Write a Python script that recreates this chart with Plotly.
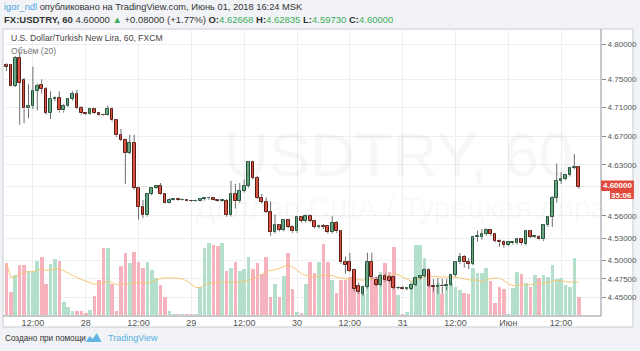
import math
import pandas as pd
import plotly.graph_objects as go

# ---------------- data (hourly candles, FX:USDTRY, 60) ----------------
open_ = [4.770, 4.771, 4.741, 4.781, 4.749, 4.709, 4.713, 4.734, 4.742, 4.737,
         4.703, 4.722, 4.724, 4.706, 4.713, 4.722, 4.729, 4.710, 4.702, 4.701,
         4.708, 4.702, 4.700, 4.699, 4.708, 4.692, 4.671, 4.665, 4.647, 4.661,
         4.598, 4.572, 4.561, 4.590, 4.598, 4.601, 4.590, 4.578, 4.582, 4.583,
         4.582, 4.582, 4.581, 4.580, 4.581, 4.583, 4.584, 4.585, 4.582, 4.580,
         4.581, 4.561, 4.590, 4.580, 4.594, 4.601, 4.634, 4.612, 4.585, 4.579,
         4.566, 4.538, 4.547, 4.541, 4.554, 4.545, 4.539, 4.558, 4.553, 4.560,
         4.553, 4.545, 4.546, 4.546, 4.538, 4.551, 4.539, 4.497, 4.498, 4.487,
         4.465, 4.455, 4.464, 4.498, 4.474, 4.467, 4.479, 4.477, 4.477, 4.463,
         4.463, 4.462, 4.462, 4.467, 4.476, 4.479, 4.487, 4.466, 4.464, 4.466,
         4.465, 4.467, 4.480, 4.497, 4.505, 4.497, 4.495, 4.531, 4.532, 4.535,
         4.541, 4.535, 4.526, 4.525, 4.521, 4.523, 4.523, 4.528, 4.522, 4.539,
         4.532, 4.532, 4.528, 4.547, 4.558, 4.585, 4.608, 4.611, 4.616, 4.626,
         4.62668]
high = [4.773, 4.772, 4.783, 4.790, 4.752, 4.743, 4.768, 4.744, 4.750, 4.739,
        4.733, 4.726, 4.733, 4.715, 4.724, 4.733, 4.735, 4.712, 4.703, 4.709,
        4.709, 4.703, 4.701, 4.713, 4.710, 4.694, 4.680, 4.667, 4.672, 4.672,
        4.600, 4.582, 4.591, 4.599, 4.602, 4.605, 4.591, 4.584, 4.584, 4.585,
        4.584, 4.583, 4.582, 4.582, 4.584, 4.586, 4.586, 4.586, 4.583, 4.583,
        4.583, 4.608, 4.604, 4.605, 4.610, 4.635, 4.636, 4.615, 4.590, 4.585,
        4.580, 4.562, 4.549, 4.556, 4.556, 4.547, 4.560, 4.560, 4.562, 4.562,
        4.555, 4.548, 4.549, 4.548, 4.560, 4.553, 4.541, 4.505, 4.510, 4.489,
        4.470, 4.466, 4.510, 4.510, 4.478, 4.481, 4.482, 4.480, 4.479, 4.465,
        4.465, 4.464, 4.468, 4.478, 4.480, 4.489, 4.489, 4.475, 4.476, 4.475,
        4.475, 4.482, 4.499, 4.510, 4.507, 4.503, 4.533, 4.540, 4.542, 4.543,
        4.542, 4.537, 4.528, 4.527, 4.526, 4.525, 4.530, 4.530, 4.540, 4.541,
        4.534, 4.534, 4.549, 4.560, 4.587, 4.632, 4.620, 4.618, 4.627, 4.645,
        4.62835]
low = [4.762, 4.740, 4.739, 4.686, 4.688, 4.695, 4.708, 4.706, 4.730, 4.700,
       4.694, 4.719, 4.703, 4.703, 4.711, 4.720, 4.708, 4.700, 4.700, 4.700,
       4.701, 4.698, 4.698, 4.698, 4.690, 4.669, 4.663, 4.604, 4.645, 4.596,
       4.555, 4.557, 4.559, 4.588, 4.597, 4.589, 4.577, 4.577, 4.581, 4.581,
       4.581, 4.580, 4.579, 4.579, 4.580, 4.581, 4.582, 4.581, 4.579, 4.579,
       4.559, 4.559, 4.570, 4.578, 4.592, 4.599, 4.610, 4.583, 4.577, 4.564,
       4.533, 4.536, 4.539, 4.539, 4.543, 4.537, 4.537, 4.551, 4.551, 4.551,
       4.543, 4.543, 4.542, 4.536, 4.536, 4.537, 4.495, 4.482, 4.484, 4.458,
       4.455, 4.452, 4.462, 4.475, 4.465, 4.465, 4.471, 4.470, 4.461, 4.461,
       4.461, 4.460, 4.460, 4.465, 4.474, 4.477, 4.464, 4.458, 4.455, 4.455,
       4.460, 4.465, 4.478, 4.495, 4.490, 4.488, 4.493, 4.525, 4.528, 4.533,
       4.533, 4.524, 4.518, 4.517, 4.519, 4.521, 4.521, 4.521, 4.520, 4.530,
       4.530, 4.527, 4.526, 4.545, 4.545, 4.578, 4.604, 4.609, 4.614, 4.624,
       4.5973]
close = [4.768, 4.741, 4.781, 4.745, 4.709, 4.713, 4.734, 4.741, 4.737, 4.703,
         4.722, 4.724, 4.706, 4.713, 4.722, 4.729, 4.710, 4.702, 4.701, 4.708,
         4.702, 4.699, 4.699, 4.708, 4.692, 4.671, 4.665, 4.647, 4.661, 4.598,
         4.572, 4.561, 4.590, 4.598, 4.601, 4.590, 4.578, 4.582, 4.583, 4.582,
         4.582, 4.581, 4.580, 4.581, 4.583, 4.584, 4.585, 4.582, 4.580, 4.582,
         4.561, 4.590, 4.580, 4.594, 4.601, 4.634, 4.612, 4.585, 4.579, 4.566,
         4.538, 4.547, 4.541, 4.554, 4.545, 4.539, 4.558, 4.553, 4.560, 4.553,
         4.545, 4.546, 4.545, 4.538, 4.551, 4.539, 4.497, 4.494, 4.486, 4.461,
         4.458, 4.464, 4.498, 4.477, 4.467, 4.479, 4.473, 4.472, 4.463, 4.463,
         4.462, 4.463, 4.467, 4.476, 4.479, 4.487, 4.466, 4.464, 4.466, 4.465,
         4.467, 4.480, 4.497, 4.505, 4.497, 4.495, 4.531, 4.533, 4.535, 4.541,
         4.535, 4.526, 4.524, 4.521, 4.524, 4.524, 4.528, 4.523, 4.539, 4.532,
         4.533, 4.528, 4.547, 4.558, 4.585, 4.608, 4.611, 4.616, 4.626, 4.627,
         4.600]
volume = [51.7, 23.3, 40, 50, 50, 44, 44, 54, 58.3, 30.7,
          51, 55.7, 54, 12.7, 7.7, 4, 4, 4, 2.3, 5,
          19, 35, 66.7, 66.7, 30.7, 4, 49, 62.3, 51.7, 62.7,
          52.7, 46.7, 52.7, 45, 37.3, 30, 18.3, 4, 1, 0.5,
          0.3, 0.3, 0.3, 1, 28.3, 66.7, 71.7, 70, 69.3, 71.7,
          44, 47.3, 52.7, 44, 45.7, 57.7, 45.7, 51.7, 41, 57.7,
          18.3, 30.7, 18.3, 39, 61.7, 26, 3, 1.7, 30.7, 52.7,
          41.7, 52.7, 70.7, 52.7, 35, 21.7, 35, 35, 37.7, 35,
          24.3, 21, 38.3, 38.3, 38.3, 43.3, 51.7, 43.3, 67.7, 20,
          1, 3.3, 34, 70.5, 70.5, 57, 43, 30, 32, 21,
          30, 32, 28, 25, 22, 21, 47, 42, 42, 47,
          34, 12, 28, 26, 1, 27, 43, 41, 32, 28,
          40, 37, 40, 38, 50, 36, 37, 30, 28, 57,
          18]

time_tick_pos = [6, 18, 30, 42, 54, 66, 78, 90, 102, 114, 126]
time_tick_labels = ["12:00", "28", "12:00", "29", "12:00", "30", "12:00", "31", "12:00", "Июн", "12:00"]
price_ticks = [4.45, 4.475, 4.50, 4.53, 4.56, 4.60, 4.63, 4.67, 4.71, 4.75, 4.80]
last_price_label = "4.60000"
countdown_label = "35:06"

# ---------------- styling ----------------
FONT = "Liberation Sans, Arial, sans-serif"
UP_BODY, UP_EDGE = "#6ba583", "#225437"
DN_BODY, DN_EDGE = "#d75442", "#5b1a13"
WICK = "#6e6e6e"
VOL_UP, VOL_DN = "#b3dfcb", "#f6b2bd"
GRID = "#eceff2"

W, H = 640, 351
PL, PR, PT, PB = 3, 603, 29, 316  # plot area in pixels


def xp(x):
    return (x - PL) / (PR - PL)


def yp(y):
    return (PB - y) / (PB - PT)


n = len(close)
idx = list(range(n))
up = [c >= o for o, c in zip(open_, close)]

vol_ma = pd.Series(volume).rolling(20, min_periods=1).mean()

fig = go.Figure()

# volume (bottom layer, primary y)
fig.add_trace(go.Bar(
    x=idx, y=volume, width=0.82,
    marker=dict(color=[VOL_UP if u else VOL_DN for u in up], line=dict(width=0)),
    yaxis="y", hoverinfo="skip", showlegend=False))
fig.add_trace(go.Scatter(
    x=idx, y=vol_ma, mode="lines", line=dict(color="#f6c877", width=1),
    yaxis="y", hoverinfo="skip", showlegend=False))

# wicks (upper and lower parts only)
wx, wy = [], []
for i in idx:
    top = max(open_[i], close[i])
    bot = min(open_[i], close[i])
    if high[i] > top:
        wx += [i, i, None]
        wy += [top, high[i], None]
    if low[i] < bot:
        wx += [i, i, None]
        wy += [low[i], bot, None]
fig.add_trace(go.Scatter(x=wx, y=wy, mode="lines", line=dict(color=WICK, width=1),
                         yaxis="y2", hoverinfo="skip", showlegend=False))

# bodies
for flag, body, edge in [(True, UP_BODY, UP_EDGE), (False, DN_BODY, DN_EDGE)]:
    xs = [i for i in idx if up[i] == flag]
    base = [min(open_[i], close[i]) for i in xs]
    size = [max(abs(close[i] - open_[i]), 0.0004) for i in xs]
    fig.add_trace(go.Bar(
        x=xs, y=size, base=base, width=0.62,
        marker=dict(color=body, line=dict(color=edge, width=1)),
        yaxis="y2", hoverinfo="skip", showlegend=False))

# log range derived from tick calibration: 4.80 at y=44.3, 3346 px per ln-unit
ln_top = math.log(4.80) + (44.3 - PT) / 3346.0
ln_bot = math.log(4.80) - (PB - 44.3) / 3346.0

fig.update_layout(
    width=W, height=H, autosize=False,
    margin=dict(l=PL, r=W - PR, t=PT, b=H - PB, pad=0),
    paper_bgcolor="#f1f3f6", plot_bgcolor="rgba(0,0,0,0)",
    barmode="overlay", bargap=0,
    font=dict(family=FONT, color="#4a4a4a"),
    xaxis=dict(range=[-0.79, 135.06], tickvals=time_tick_pos, ticktext=time_tick_labels,
               showgrid=True, gridcolor=GRID, gridwidth=1, zeroline=False,
               showline=False, ticks="", tickfont=dict(size=9, color="#555"),
               fixedrange=True),
    yaxis=dict(range=[-1, PB - PT - 1], visible=False, showgrid=False, zeroline=False,
               fixedrange=True),
    yaxis2=dict(type="log", overlaying="y", side="right",
                range=[ln_bot / math.log(10), ln_top / math.log(10)],
                tickvals=price_ticks,
                ticktext=["" if abs(v - 4.60) < 1e-9 else "%.5f" % v for v in price_ticks],
                showgrid=True, gridcolor=GRID, gridwidth=1, zeroline=False,
                ticks="outside", ticklen=4, tickcolor="#8a8a8a",
                tickfont=dict(size=8, color="#555"), showline=False, fixedrange=True),
)

shapes = []
# outer white chart box
shapes.append(dict(type="rect", xref="paper", yref="paper", x0=xp(3), x1=xp(635), y0=yp(327), y1=yp(29),
                   fillcolor="white", line=dict(color="#c9ced4", width=1), layer="below"))
# pane border lines
shapes.append(dict(type="line", xref="paper", yref="paper", x0=xp(3), x1=xp(603), y0=yp(316), y1=yp(316),
                   line=dict(color="#8e9297", width=1)))
shapes.append(dict(type="line", xref="paper", yref="paper", x0=xp(603), x1=xp(603), y0=yp(316), y1=yp(29),
                   line=dict(color="#8e9297", width=1)))
# price label boxes
shapes.append(dict(type="rect", xref="paper", yref="paper", x0=xp(603), x1=xp(636), y0=yp(191), y1=yp(180.5),
                   fillcolor="#df4a3c", line=dict(width=0)))
shapes.append(dict(type="rect", xref="paper", yref="paper", x0=xp(612), x1=xp(636), y0=yp(199), y1=yp(191),
                   fillcolor="#df4a3c", line=dict(width=0)))
# TradingView logo (simplified)
shapes.append(dict(type="path", xref="paper", yref="paper",
                   path="M %f %f L %f %f L %f %f L %f %f L %f %f Z" % (
                       xp(86), yp(342), xp(90), yp(336), xp(93), yp(339), xp(97), yp(333), xp(102), yp(342)),
                   fillcolor="#62b5e5", line=dict(width=0)))
fig.update_layout(shapes=shapes)


def ann(text, x, y, size, color="#4a4a4a", anchor="left", family=FONT):
    fig.add_annotation(text=text, xref="paper", yref="paper", x=xp(x), y=yp(y),
                       xanchor=anchor, yanchor="middle", showarrow=False,
                       font=dict(size=size, color=color, family=family))


# watermark
ann("USDTRY, 60", 400, 154, 62, color="rgba(60,70,80,0.045)", anchor="center")
ann("Доллар США / Турецкая лира", 402, 207, 30, color="rgba(60,70,80,0.045)", anchor="center")

# header
ann("<span style='color:#4aa3df'>igor_ndl</span> опубликовано на TradingView.com, Июнь 01, 2018 16:24 MSK",
    2, 7, 9.3, color="#333")
G = "#3fae5c"
ann("<b>FX:USDTRY, 60</b> 4.60000 <span style='color:%s'>▲</span> +0.08000 (+1.77%%) "
    "<b>O:</b><span style='color:%s'>4.62668</span> <b>H:</b><span style='color:%s'>4.62835</span> "
    "<b>L:</b><span style='color:%s'>4.59730</span> <b>C:</b><span style='color:%s'>4.60000</span>" % (G, G, G, G, G),
    2, 19, 9.5, color="#333")

# pane legend
ann("U.S. Dollar/Turkish New Lira, 60, FXCM", 9, 38, 8.6, color="#444")
ann("Объём (20)", 9, 51, 8.6, color="#777")

# price labels
ann("<b>%s</b>" % last_price_label, 619.5, 186, 8, color="white", anchor="center")
ann("<b>%s</b>" % countdown_label, 624, 195, 8, color="white", anchor="center")

# footer
ann("Создано при помощи", 3, 338, 8.2, color="#333")
ann("TradingView", 106, 338, 9, color="#58b0e3")

fig.write_html("out.html")
